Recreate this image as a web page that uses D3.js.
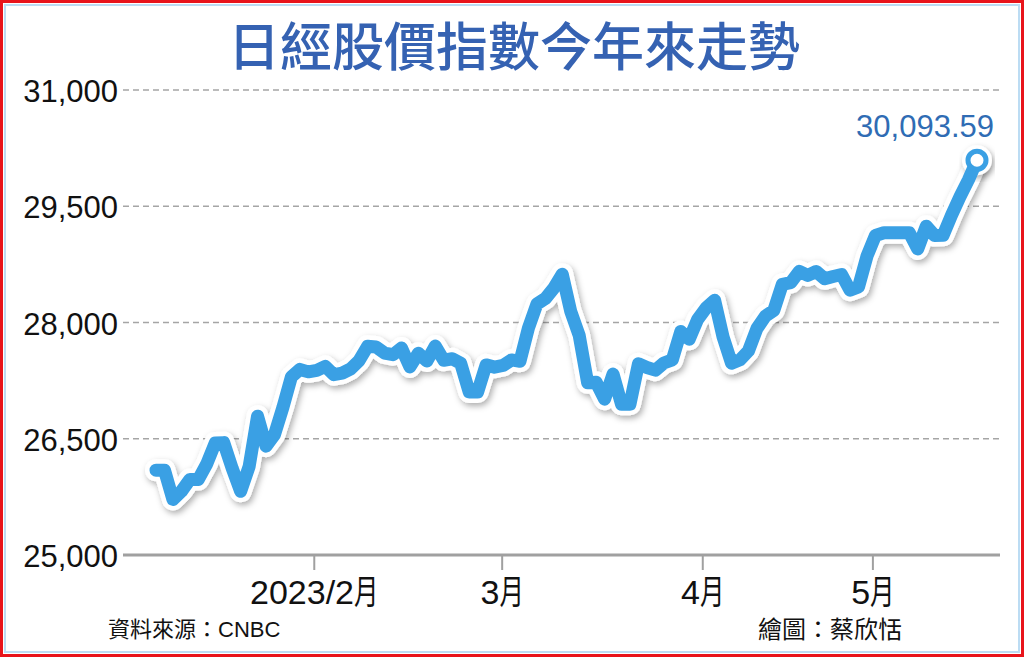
<!DOCTYPE html>
<html><head><meta charset="utf-8">
<script src="https://cdn.jsdelivr.net/npm/d3@7"></script>
<style>
html,body{margin:0;padding:0;background:#fff;}
svg{display:block;}
</style></head><body>
<svg id="chart" width="1024" height="657"></svg>
<script>
const title = "日經股價指數今年來走勢";
// weekdays of 2023 (market holidays keep the previous close, as drawn)
const dates = [
"01-02","01-03","01-04","01-05","01-06","01-09","01-10","01-11","01-12","01-13",
"01-16","01-17","01-18","01-19","01-20","01-23","01-24","01-25","01-26","01-27",
"01-30","01-31",
"02-01","02-02","02-03","02-06","02-07","02-08","02-09","02-10","02-13","02-14",
"02-15","02-16","02-17","02-20","02-21","02-22","02-23","02-24","02-27","02-28",
"03-01","03-02","03-03","03-06","03-07","03-08","03-09","03-10","03-13","03-14",
"03-15","03-16","03-17","03-20","03-21","03-22","03-23","03-24","03-27","03-28",
"03-29","03-30","03-31",
"04-03","04-04","04-05","04-06","04-07","04-10","04-11","04-12","04-13","04-14",
"04-17","04-18","04-19","04-20","04-21","04-24","04-25","04-26","04-27","04-28",
"05-01","05-02","05-03","05-04","05-05","05-08","05-09","05-10","05-11","05-12",
"05-15","05-16","05-17"];
const values = [
26095,26095,25717,25821,25974,25974,26176,26446,26450,26120,
25822,26139,26791,26405,26554,26906,27299,27395,27363,27383,
27433,27327,
27347,27402,27509,27694,27685,27606,27584,27671,27427,27603,
27502,27696,27513,27532,27473,27104,27104,27453,27424,27446,
27517,27499,27927,28238,28309,28444,28623,28144,27833,27222,
27229,27011,27334,26946,26946,27467,27420,27385,27477,27518,
27884,27783,28041,
28188,28287,27813,27473,27518,27634,27923,28083,28157,28493,
28515,28659,28607,28658,28564,28594,28620,28416,28458,28856,
29123,29158,29158,29158,29158,28950,29243,29122,29127,29388,
29626,29843,30093.59];
const yTicks = [25000, 26500, 28000, 29500, 31000];
const xTickLabels = ["2023/2", "3", "4", "5"];
const xTickUnit = "月";
const xTickAt = [18.7, 40.9, 64.6, 84.7]; // position on the weekday axis
const lastLabel = "30,093.59";
const source = "資料來源：CNBC";
const credit = "繪圖：蔡欣恬";

const latin = "'Liberation Sans', Arial, 'Noto Sans CJK TC', sans-serif";
const cjk = "'Noto Sans CJK TC', 'Liberation Sans', sans-serif";
const blue = "#3aa0e4";

const svg = d3.select("#chart");
const defs = svg.append("defs");
const f = defs.append("filter").attr("id","sh").attr("x","-10%").attr("y","-10%").attr("width","120%").attr("height","130%");
f.append("feDropShadow").attr("dx",2).attr("dy",3).attr("stdDeviation",3)
  .attr("flood-color","#000").attr("flood-opacity",0.32);

// frame
svg.append("rect").attr("x",1.5).attr("y",1.5).attr("width",1021).attr("height",654)
  .attr("fill","#fff").attr("stroke","#e8141b").attr("stroke-width",3);
svg.append("rect").attr("x",5).attr("y",5).attr("width",1014).attr("height",647)
  .attr("fill","none").attr("stroke","#bcdcf3").attr("stroke-width",2);

// title
svg.append("text").attr("x",514).attr("y",66).attr("text-anchor","middle")
  .attr("font-family",cjk).attr("font-weight",500).attr("font-size",52)
  .attr("fill","#3562b2").text(title);

const x = d3.scaleLinear().domain([0, dates.length - 1]).range([156, 977]);
const y = d3.scaleLinear().domain([25000, 31000]).range([555, 90]);

// grid + y labels
const gy = svg.append("g");
gy.selectAll("line.grid").data(yTicks.filter(v => v !== 25000)).join("line")
  .attr("class","grid").attr("x1",123).attr("x2",1000)
  .attr("y1",d=>y(d)).attr("y2",d=>y(d))
  .attr("stroke","#a5a5a5").attr("stroke-width",1.3).attr("stroke-dasharray","6,4");
gy.selectAll("text").data(yTicks).join("text")
  .attr("x",118).attr("y",d=>y(d)+12).attr("text-anchor","end")
  .attr("font-family",latin).attr("font-size",31).attr("fill","#111")
  .text(d=>d3.format(",")(d));

// baseline axis
svg.append("line").attr("x1",123).attr("x2",1000).attr("y1",y(25000)).attr("y2",y(25000))
  .attr("stroke","#a0a0a0").attr("stroke-width",3);

// x ticks
const gx = svg.append("g");
xTickAt.forEach((t, i) => {
  const px = x(t);
  gx.append("line").attr("x1",px).attr("x2",px).attr("y1",556).attr("y2",570)
    .attr("stroke","#a0a0a0").attr("stroke-width",2);
  const g = gx.append("g");
  const num = g.append("text").attr("x",0).attr("y",0)
    .attr("font-family",latin).attr("font-size",34).attr("fill","#111").text(xTickLabels[i]);
  const w = num.node().getComputedTextLength();
  const unitW = 34 * 0.72;
  g.append("text").attr("transform",`translate(${w},0) scale(0.72,1)`)
    .attr("font-family",cjk).attr("font-size",34).attr("fill","#111").text(xTickUnit);
  g.attr("transform",`translate(${px - (w + unitW)/2},604)`);
});

// line
const line = d3.line().x((d,i)=>x(i)).y(d=>y(d)).curve(d3.curveLinear);
svg.append("path").datum(values).attr("d",line).attr("fill","none")
  .attr("stroke","#fff").attr("stroke-width",22).attr("stroke-linejoin","round")
  .attr("stroke-linecap","round").attr("filter","url(#sh)");
const lx = x(values.length - 1), ly = y(values[values.length - 1]);
svg.append("circle").attr("cx",lx).attr("cy",ly).attr("r",15).attr("fill","#fff").attr("filter","url(#sh)");
svg.append("path").datum(values).attr("d",line).attr("fill","none")
  .attr("stroke",blue).attr("stroke-width",13).attr("stroke-linejoin","round")
  .attr("stroke-linecap","round");
svg.append("circle").attr("cx",lx).attr("cy",ly).attr("r",9).attr("fill","#fff")
  .attr("stroke",blue).attr("stroke-width",5);

svg.append("text").attr("x",994).attr("y",137).attr("text-anchor","end")
  .attr("font-family",latin).attr("font-size",31).attr("fill","#2f6cb4").text(lastLabel);

// footer
svg.append("text").attr("x",108).attr("y",637).attr("font-family",latin)
  .attr("font-size",22).attr("fill","#111").text(source);
svg.append("text").attr("x",758).attr("y",638).attr("font-family",latin)
  .attr("font-size",24).attr("fill","#111").text(credit);
</script>
</body></html>
